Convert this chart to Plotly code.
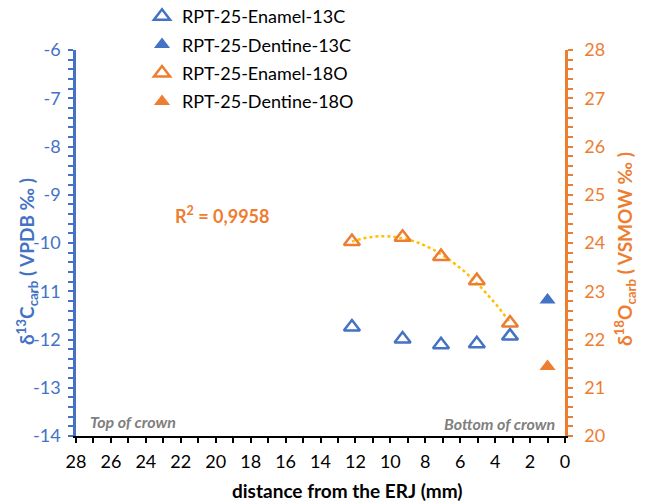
import numpy as np
import plotly.graph_objects as go

# Data
enamel_x = [12.2, 9.3, 7.1, 5.05, 3.15]
enamel_13c = [-11.74, -11.99, -12.11, -12.09, -11.93]
enamel_18o = [24.03, 24.12, 23.72, 23.22, 22.34]
dentine_x = [1.0]
dentine_13c = [-11.18]
dentine_18o = [21.44]

x_ticks = [28, 26, 24, 22, 20, 18, 16, 14, 12, 10, 8, 6, 4, 2, 0]
c_ticks = [-14, -13, -12, -11, -10, -9, -8, -7, -6]
c_ticklabels = ["-14", "-13", "-12", "-11", "-10", "-9", "-8", "-7", "-6"]
o_ticks = [20, 21, 22, 23, 24, 25, 26, 27, 28]

BLUE = "#4472C4"
ORANGE = "#ED7D31"
GOLD = "#FFC000"
GREY = "#808080"
FONT = "Lato"

# plot area in pixels
L, R, T, B = 76, 565, 50, 436
W, H = 646, 504
PW, PH = R - L, B - T


def px(xp):
    return (xp - L) / PW


def py(yp):
    return (B - yp) / PH


# trendline: 2nd order polynomial of enamel 18O
coef = np.polyfit(enamel_x, enamel_18o, 2)
tx = np.linspace(max(enamel_x), min(enamel_x), 60)
ty = np.polyval(coef, tx)

fig = go.Figure()
fig.add_trace(go.Scatter(x=enamel_x, y=enamel_13c, mode="markers", name="RPT-25-Enamel-13C",
                         legendgroup="a",
                         marker=dict(symbol="triangle-up-open", size=14, color=BLUE, line=dict(width=2.5))))
fig.add_trace(go.Scatter(x=dentine_x, y=dentine_13c, mode="markers", name="RPT-25-Dentine-13C",
                         legendgroup="b",
                         marker=dict(symbol="triangle-up", size=14, color=BLUE)))
fig.add_trace(go.Scatter(x=tx, y=ty, mode="lines", showlegend=False, yaxis="y2",
                         line=dict(color=GOLD, width=2.5, dash="dot"), hoverinfo="skip"))
fig.add_trace(go.Scatter(x=enamel_x, y=enamel_18o, mode="markers", name="RPT-25-Enamel-18O",
                         legendgroup="c", yaxis="y2",
                         marker=dict(symbol="triangle-up-open", size=14, color=ORANGE, line=dict(width=2.5))))
fig.add_trace(go.Scatter(x=dentine_x, y=dentine_18o, mode="markers", name="RPT-25-Dentine-18O",
                         legendgroup="d", yaxis="y2",
                         marker=dict(symbol="triangle-up", size=14, color=ORANGE)))


def ann(text, x, y, size, color, xanchor="center", angle=0):
    return dict(text=text, x=px(x), y=py(y), xref="paper", yref="paper", showarrow=False,
                xanchor=xanchor, yanchor="middle", textangle=angle,
                font=dict(size=size, color=color))


fig.update_layout(
    width=W, height=H,
    margin=dict(l=L, r=W - R, t=T, b=H - B, autoexpand=False),
    paper_bgcolor="white", plot_bgcolor="white",
    font=dict(family=FONT, size=18, color="black"),
    showlegend=True,
    legend=dict(x=px(142), y=py(-2), xanchor="left", yanchor="top", bgcolor="rgba(0,0,0,0)",
                font=dict(size=18, color="black"), tracegroupgap=2),
    xaxis=dict(range=[28, 0], tickvals=x_ticks, ticktext=[str(v) for v in x_ticks],
               showgrid=False, zeroline=False,
               showline=True, linecolor="black", linewidth=2, ticks="outside", ticklen=5,
               tickwidth=2, tickcolor="black", ticklabelstandoff=3,
               minor=dict(dtick=1, tick0=0, ticks="outside", ticklen=5, tickwidth=2, tickcolor="black"),
               tickfont=dict(size=18, color="black")),
    yaxis=dict(range=[-14, -6], tickvals=c_ticks, ticktext=c_ticklabels, showgrid=False, zeroline=False,
               showline=True, linecolor=BLUE, linewidth=2.5, ticks="outside", ticklen=5,
               tickwidth=2, tickcolor=BLUE, ticklabelstandoff=4,
               minor=dict(dtick=0.2, tick0=0, ticks="outside", ticklen=5, tickwidth=2, tickcolor=BLUE),
               tickfont=dict(size=18, color=BLUE)),
    yaxis2=dict(range=[20, 28], tickvals=o_ticks, ticktext=[str(v) for v in o_ticks],
                overlaying="y", side="right", showgrid=False, zeroline=False,
                showline=True, linecolor=ORANGE, linewidth=2.5, ticks="outside", ticklen=5,
                tickwidth=2, tickcolor=ORANGE, ticklabelstandoff=8,
                minor=dict(dtick=0.2, tick0=0, ticks="outside", ticklen=5, tickwidth=2, tickcolor=ORANGE),
                tickfont=dict(size=18, color=ORANGE)),
    annotations=[
        ann("<b>R<sup>2</sup> = 0,9958</b>", 222, 215, 18, ORANGE),
        ann("<i><b>Top of crown</b></i>", 88, 421, 16, GREY, xanchor="left"),
        ann("<i><b>Bottom of crown</b></i>", 557, 423, 16, GREY, xanchor="right"),
        ann("<b>distance from the ERJ (mm)</b>", 347, 490, 19, "black"),
        ann("<b>δ<sup>13</sup>C<sub>carb</sub> ( VPDB ‰ )</b>", 27, 262, 19, BLUE, angle=-90),
        ann("<b>δ<sup>18</sup>O<sub>carb</sub> ( VSMOW ‰ )</b>", 625, 249, 19, ORANGE, angle=-90),
    ],
)

fig.write_html("out.html")
